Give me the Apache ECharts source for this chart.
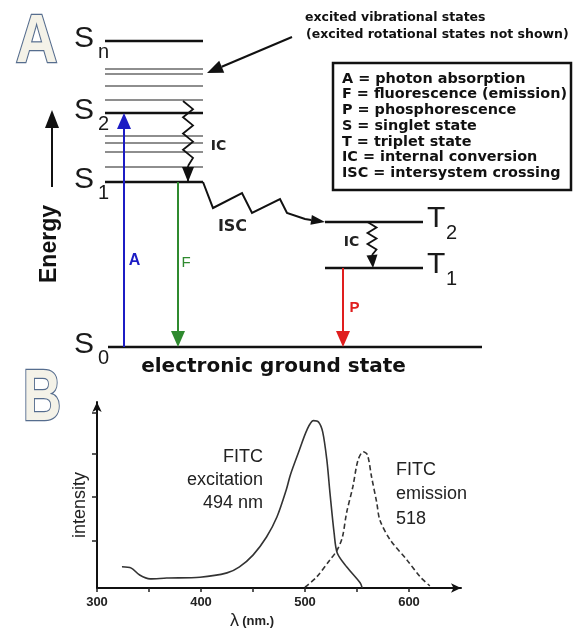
<!DOCTYPE html>
<html><head><meta charset="utf-8">
<script src="https://cdn.jsdelivr.net/npm/echarts@6/dist/echarts.min.js"></script>
<style>html,body{margin:0;padding:0;background:#fff}#c{width:574px;height:629px}</style>
</head><body><div id="c"></div>
<script>
// ===== Panel B data: FITC spectra (wavelength in nm, relative intensity) =====
const excitationWavelength = [324,333,341,351,367,399,425,437,450,463,473,482,486,494,502,508,513,517,521,524,528,531,540,553,555];
const excitationIntensity  = [0.49,0.46,0.30,0.21,0.23,0.25,0.35,0.49,0.76,1.18,1.64,2.27,2.62,3.15,3.66,3.87,3.84,3.61,2.96,2.20,1.27,0.81,0.49,0.12,0.0];
const emissionWavelength   = [500,511,524,531,536,540,546,551,556,560,564,569,572,582,598,611,620];
const emissionIntensity    = [0.02,0.25,0.65,0.88,1.18,1.74,2.34,2.96,3.15,3.08,2.57,1.97,1.57,1.11,0.65,0.25,0.05];
const xTickLabels = [300,400,500,600];
const xTicks = [300,350,400,450,500,550,600];
const yTicks = [1.1,2.1,3.1,4.05];

// ===== Panel A data: Jablonski diagram (energies in arbitrary units) =====
const levelNames  = ['S0','S1','S2','Sn','T1','T2'];
const levelEnergy = [0,165,234,306,79,125];
const vibrationalEnergy = [180,195,204,211,247,261,273,278];
const transitionNames = ['A','F','P'];
const transitionFrom  = ['S0','S1','T1'];
const transitionTo    = ['S2','S0','S0'];
const legendLines = ['A = photon absorption','F = fluorescence (emission)','P = phosphorescence','S = singlet state','T = triplet state','IC = internal conversion','ISC = intersystem crossing'];

// ===== layout / style (not data) =====
const FONT = '"Liberation Sans", Arial, sans-serif';
const WIDE = '"DejaVu Sans", Verdana, sans-serif';
const spanS = [105,203], spanS0 = [108,482], spanT = [325,423];
const transitionX = [124,178,343];
const transitionColor = ['#1c1cc4','#2f8a2f','#e01e1e'];
const transitionLabel = [[134.5,86,'bold 16px '+FONT],[186,84.5,'15px '+FONT],[354.5,39.5,'bold 15px '+FONT]];
const iscPath = [[203,165],[213,139],[242,154],[252,134],[280,148],[287,134],[305,128],[325,125]];

function E(name){ return levelEnergy[levelNames.indexOf(name)]; }

function renderDiagram(params, api) {
  const P = (x, e) => api.coord([x, e]);
  const ch = [];
  const poly = (pts, stroke, lw) => ch.push({type:'polyline', shape:{points:pts}, style:{stroke:stroke, lineWidth:lw, fill:null}});
  const head = (tip, from, len, wid, fill) => {
    const dx = tip[0]-from[0], dy = tip[1]-from[1], d = Math.hypot(dx,dy);
    const ux = dx/d, uy = dy/d, bx = tip[0]-ux*len, by = tip[1]-uy*len;
    ch.push({type:'polygon', shape:{points:[tip,[bx-uy*wid/2, by+ux*wid/2],[bx+uy*wid/2, by-ux*wid/2]]}, style:{fill:fill}});
    return [bx, by];
  };
  const arrow = (a, b, color, lw, len, wid) => { const base = head(b, a, len, wid, color); poly([a, base], color, lw); };
  const txt = (p, text, font, fill, align, rot) => ch.push({type:'text', x:p[0], y:p[1], rotation:rot||0,
      style:{text:text, font:font, fill:fill, align:align||'center', verticalAlign:'middle'}});
  const zig = (a, b, n, amp, color, lw) => {
    const pts = [];
    for (let i = 0; i <= n; i++) {
      const t = i/n; const off = i === n ? 0 : (i%2 ? amp : -amp);
      pts.push([a[0]+(b[0]-a[0])*t + off, a[1]+(b[1]-a[1])*t]);
    }
    poly(pts, color, lw);
    return pts[pts.length-1];
  };

  vibrationalEnergy.forEach(e => poly([P(spanS[0],e), P(spanS[1],e)], '#8e8e8e', 2));
  levelNames.forEach((n, i) => {
    const e = levelEnergy[i];
    const span = n === 'S0' ? spanS0 : (n[0] === 'T' ? spanT : spanS);
    poly([P(span[0],e), P(span[1],e)], '#111', 2.5);
    const p = P(0, e);
    if (n[0] === 'S') {
      txt([74, p[1]-2], 'S', '30px '+FONT, '#1a1a1a', 'left');
      txt([98, p[1]+11], n.slice(1), '20px '+FONT, '#1a1a1a', 'left');
    } else {
      txt([427, p[1]-3], 'T', '30px '+FONT, '#1a1a1a', 'left');
      txt([446, p[1]+11], n.slice(1), '20px '+FONT, '#1a1a1a', 'left');
    }
  });
  transitionNames.forEach((n, i) => {
    const x = transitionX[i];
    arrow(P(x, E(transitionFrom[i])), P(x, E(transitionTo[i])), transitionColor[i], 2, 16, 14);
    const lb = transitionLabel[i];
    txt(P(lb[0], lb[1]), n, lb[2], transitionColor[i]);
  });
  let end = zig(P(188, 246), P(188, 181), 8, 5, '#111', 1.8);
  head(P(188, E('S1')), end, 15, 12, '#111'); poly([end, P(188, E('S1')-1)], '#111', 1.8);
  txt(P(218.5, 201), 'IC', 'bold 14px '+WIDE, '#222');
  end = zig(P(372, E('T2')), P(372, 92), 6, 4.5, '#111', 1.8);
  head(P(373, E('T1')), end, 13, 11, '#111');
  txt(P(351.5, 105), 'IC', 'bold 14px '+WIDE, '#222');
  const isc = iscPath.map(q => P(q[0], q[1]));
  const base = head(isc[isc.length-1], isc[isc.length-2], 14, 10, '#111');
  poly(isc.slice(0, -1).concat([base]), '#111', 2);
  txt(P(232.5, 120), 'ISC', 'bold 16px '+WIDE, '#222');
  arrow(P(52, 160), P(52, 237), '#111', 2, 18, 14);
  txt(P(50, 103), 'Energy', 'bold 23px '+FONT, '#111', 'center', Math.PI/2);
  txt(P(273.5, -20), 'electronic ground state', 'bold 20px '+WIDE, '#111');
  arrow(P(292, 310), P(207, 274), '#111', 2, 16, 13);
  return {type:'group', children:ch};
}

const chart = echarts.init(document.getElementById('c'));
const zip = (a, b) => a.map((v, i) => [v, b[i]]);

chart.setOption({
  animation: false,
  backgroundColor: '#fff',
  grid: [
    {left:97, width:364, top:402, height:186, outerBoundsMode:'none', containLabel:false},
    {left:0, width:574, top:0, height:347, outerBoundsMode:'none', containLabel:false}
  ],
  xAxis: [
    {gridIndex:0, type:'value', min:300, max:650, interval:50,
     axisLine:{show:true, onZero:false, symbol:['none','arrow'], symbolSize:[7,10], lineStyle:{color:'#111', width:2}},
     axisTick:{show:true, length:4, customValues:xTicks, lineStyle:{color:'#222', width:1.5}},
     axisLabel:{show:true, customValues:xTickLabels, formatter:v => xTickLabels.indexOf(v) >= 0 ? String(v) : '',
       color:'#222', fontFamily:FONT, fontWeight:'bold', fontSize:13, margin:8},
     splitLine:{show:false}},
    {gridIndex:1, type:'value', min:0, max:574, show:false}
  ],
  yAxis: [
    {gridIndex:0, type:'value', min:0, max:4.3, interval:1,
     axisLine:{show:true, symbol:['none','arrow'], symbolSize:[7,10], lineStyle:{color:'#111', width:2}},
     axisTick:{show:true, length:5, customValues:yTicks, lineStyle:{color:'#222', width:1.5}},
     axisLabel:{show:false}, splitLine:{show:false}},
    {gridIndex:1, type:'value', min:0, max:347, show:false}
  ],
  series: [
    {type:'line', name:'FITC excitation', xAxisIndex:0, yAxisIndex:0, data:zip(excitationWavelength, excitationIntensity),
     smooth:0.3, showSymbol:false, lineStyle:{color:'#333', width:1.6}},
    {type:'line', name:'FITC emission', xAxisIndex:0, yAxisIndex:0, data:zip(emissionWavelength, emissionIntensity),
     smooth:0.3, showSymbol:false, lineStyle:{color:'#333', width:1.6, type:[5,3]}},
    {type:'custom', name:'Jablonski', xAxisIndex:1, yAxisIndex:1, data:[[0,0]], renderItem:renderDiagram, silent:true, clip:false}
  ],
  graphic: [
    {type:'text', x:36.5, y:43, scaleX:0.85, style:{text:'A', font:'bold 68px '+FONT, fill:'#f4f2e8', stroke:'#566d8e', lineWidth:2.5, align:'center', verticalAlign:'middle', shadowBlur:3, shadowColor:'rgba(80,100,140,0.5)'}},
    {type:'text', x:42, y:400, scaleX:0.74, style:{text:'B', font:'bold 72px '+FONT, fill:'#f4f2e8', stroke:'#566d8e', lineWidth:2.5, align:'center', verticalAlign:'middle', shadowBlur:3, shadowColor:'rgba(80,100,140,0.5)'}},
    {type:'text', x:305, y:18, style:{text:'excited vibrational states', font:'bold 12.5px '+WIDE, fill:'#111', align:'left', verticalAlign:'middle'}},
    {type:'text', x:306, y:35, style:{text:'(excited rotational states not shown)', font:'bold 12.5px '+WIDE, fill:'#111', align:'left', verticalAlign:'middle'}},
    {type:'rect', shape:{x:333, y:63, width:238, height:127}, style:{fill:'#fff', stroke:'#111', lineWidth:2.5}},
    ...legendLines.map((t, i) => ({type:'text', x:342, y:79 + i*15.7, style:{text:t, font:'bold 14.4px '+WIDE, fill:'#111', align:'left', verticalAlign:'middle'}})),
    ...['FITC','excitation','494 nm'].map((t, i) => ({type:'text', x:263, y:457 + i*23, style:{text:t, font:'18px '+FONT, fill:'#222', align:'right', verticalAlign:'middle'}})),
    ...['FITC','emission','518'].map((t, i) => ({type:'text', x:396, y:470 + i*24.5, style:{text:t, font:'18px '+FONT, fill:'#222', align:'left', verticalAlign:'middle'}})),
    {type:'text', x:80, y:505, rotation:Math.PI/2, style:{text:'intensity', font:'18px '+FONT, fill:'#222', align:'center', verticalAlign:'middle'}},
    {type:'text', x:252, y:621, style:{text:'{l|λ} {u|(nm.)}', rich:{l:{font:'18px '+FONT, fill:'#222'}, u:{font:'bold 13px '+FONT, fill:'#222'}}, align:'center', verticalAlign:'middle'}}
  ]
});
</script></body></html>
